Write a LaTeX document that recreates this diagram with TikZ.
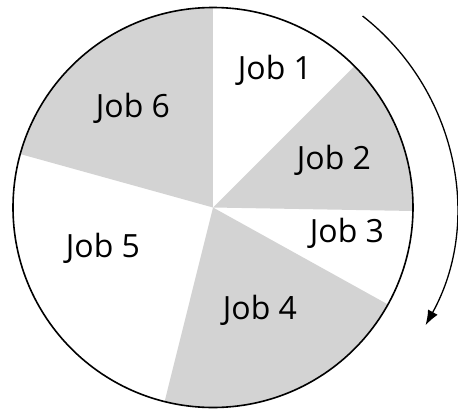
\documentclass[tikz,border=0pt]{standalone}
\usepackage{fontspec}
\setmainfont{Open Sans}
\usetikzlibrary{arrows.meta}
\definecolor{jobgray}{RGB}{211,211,211}
\tikzset{
    joblabel/.style={font=\fontsize{32}{36}\selectfont, inner sep=0pt},
    slice/.style={fill=jobgray}
}
\begin{document}
\begin{tikzpicture}[x=1pt,y=1pt]
        \useasboundingbox (-213,-202.5) rectangle (245,207.5);
        \coordinate (O) at (0,0);

        % shaded slices
        \fill[slice] (O) -- (-1:200) arc (-1:45:200) -- cycle;
        \fill[slice] (O) -- (-104:200) arc (-104:-29:200) -- cycle;
        \fill[slice] (O) -- (90:200) arc (90:164.5:200) -- cycle;

        \draw[line width=1.6pt] (O) circle (200);

        \node[joblabel] (job1) at (62,137.5) {Job 1};
        \node[joblabel] (job2) at (121,47.5) {Job 2};
        \node[joblabel] (job3) at (134,-25.5) {Job 3};
        \node[joblabel] (job4) at (47,-102.5) {Job 4};
        \node[joblabel] (job5) at (-110,-40.5) {Job 5};
        \node[joblabel] (job6) at (-80,99.5) {Job 6};

        % order of the turns
        \draw[line width=1.3pt,-{Latex[length=15pt,width=11pt]}]
            (52:243) arc (52:-29:243);
    \end{tikzpicture}
\end{document}
